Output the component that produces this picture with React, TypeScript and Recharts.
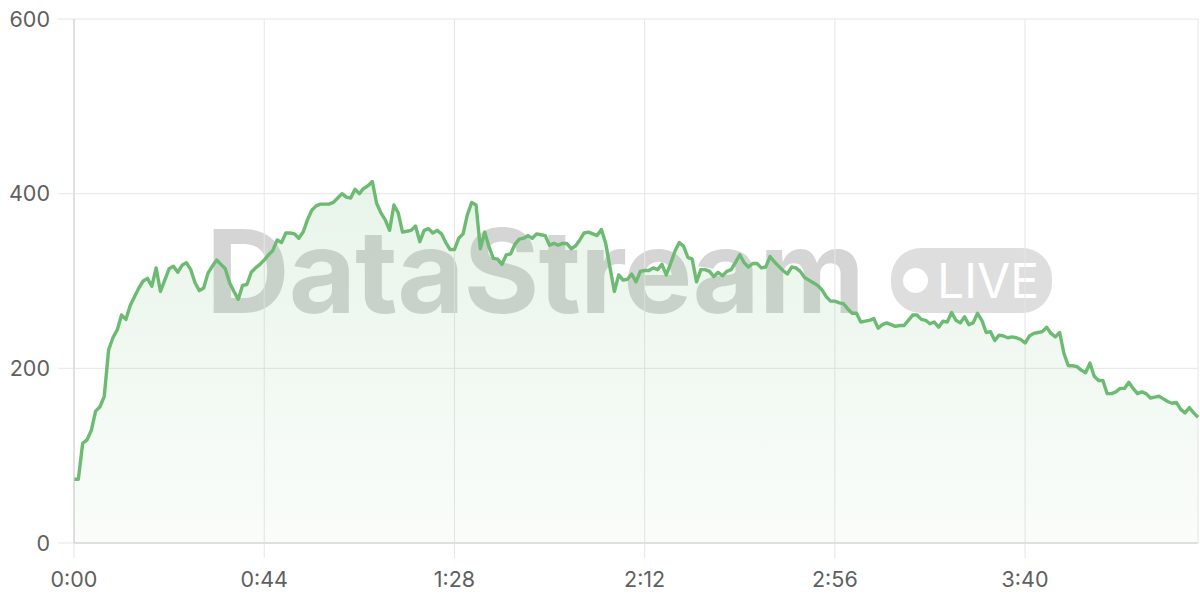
import React from 'react';
import { AreaChart, Area, XAxis, YAxis, CartesianGrid } from 'recharts';

// one reading per second, 0:00 .. 4:20
const viewers = [
  73, 73, 114, 118, 129, 151, 156, 168, 221, 235,
  244, 261, 256, 272, 282, 292, 300, 303, 294, 315,
  288, 301, 314, 317, 310, 318, 321, 313, 298, 289,
  292, 309, 317, 324, 319, 314, 298, 288, 279, 295,
  296, 310, 315, 319, 324, 330, 335, 347, 344, 355,
  355, 354, 349, 356, 370, 381, 386, 388, 388, 388,
  390, 395, 400, 396, 395, 405, 400, 406, 409, 414,
  389, 378, 370, 358, 387, 378, 356, 357, 358, 363,
  345, 358, 360, 355, 358, 354, 344, 336, 336, 349,
  354, 376, 390, 387, 337, 356, 339, 326, 325, 319,
  330, 331, 342, 348, 349, 352, 349, 354, 353, 352,
  341, 343, 341, 343, 343, 337, 340, 347, 355, 356,
  354, 352, 359, 343, 315, 288, 307, 301, 302, 308,
  299, 311, 312, 312, 315, 313, 319, 307, 320, 334,
  344, 340, 327, 325, 299, 313, 313, 311, 305, 310,
  306, 311, 313, 321, 330, 321, 316, 320, 320, 315,
  316, 328, 322, 317, 312, 308, 316, 315, 311, 304,
  301, 298, 295, 290, 282, 277, 277, 275, 274, 268,
  263, 263, 253, 254, 255, 257, 246, 250, 252, 250,
  248, 249, 249, 255, 261, 261, 256, 255, 251, 253,
  247, 254, 253, 264, 255, 252, 259, 250, 252, 263,
  255, 241, 242, 232, 238, 237, 235, 236, 235, 233,
  229, 237, 240, 241, 242, 247, 240, 236, 241, 217,
  203, 203, 202, 198, 195, 206, 191, 186, 186, 171,
  171, 173, 177, 177, 184, 177, 171, 173, 171, 166,
  167, 168, 165, 162, 160, 161, 153, 149, 155, 149,
  144,
];

const timeTicks = [0, 44, 88, 132, 176, 220];
const valueTicks = [0, 200, 400, 600];

const data = viewers.map((v, i) => ({ t: i, v }));

const fmtTime = (s: number) => `${Math.floor(s / 60)}:${String(s % 60).padStart(2, '0')}`;

const lineColor = '#6dbb73';
const tickText = { fontSize: 21.5, fill: '#5f5f5f', fontFamily: 'Inter, sans-serif' };

function Watermark() {
  return (
    <div style={{ position: 'absolute', left: 0, top: 0, width: 1200, height: 600, pointerEvents: 'none' }}>
      <div style={{
        position: 'absolute', left: 206, top: 196, fontFamily: 'Inter, sans-serif', fontWeight: 700,
        fontSize: 116, letterSpacing: -1, lineHeight: '150px', color: 'rgba(0,0,0,0.165)',
      }}>DataStream</div>
      <div style={{
        position: 'absolute', left: 891, top: 248, width: 161, height: 65, borderRadius: 30,
        background: 'rgba(0,0,0,0.13)',
      }}>
        <div style={{ position: 'absolute', left: 12, top: 20, width: 25, height: 25, borderRadius: '50%', background: '#fff' }} />
        <div style={{
          position: 'absolute', left: 46, top: 0, lineHeight: '65px', fontFamily: 'Inter, sans-serif',
          fontSize: 48, fontWeight: 400, color: '#fff',
        }}>LIVE</div>
      </div>
    </div>
  );
}

export default function App() {
  return (
    <div style={{ position: 'absolute', left: 0, top: 0, width: 1200, height: 600, background: '#fff' }}>
      <Watermark />
      <div style={{ position: 'absolute', left: 0, top: 0 }}>
        <AreaChart width={1200} height={600} data={data} margin={{ top: 19, right: 2, bottom: 0, left: 0 }}>
          <defs>
            <linearGradient id="fillGrad" x1="0" y1="0" x2="0" y2="1">
              <stop offset="0%" stopColor={lineColor} stopOpacity={0.26} />
              <stop offset="100%" stopColor={lineColor} stopOpacity={0.06} />
            </linearGradient>
          </defs>
          <CartesianGrid stroke="#e6e6e6" strokeWidth={1} />
          <XAxis
            dataKey="t" type="number" domain={[0, 260]} ticks={timeTicks} tickFormatter={fmtTime}
            height={57} tickSize={15} tickMargin={14} tick={tickText}
            axisLine={{ stroke: '#cccccc' }} tickLine={{ stroke: '#e6e6e6' }}
          />
          <YAxis
            domain={[0, 600]} ticks={valueTicks} width={74} tickSize={16} tickMargin={8} tick={tickText}
            axisLine={{ stroke: '#cccccc' }} tickLine={{ stroke: '#e6e6e6' }}
          />
          <Area
            type="linear" dataKey="v" stroke={lineColor} strokeWidth={3.4} strokeLinejoin="round"
            fill="url(#fillGrad)" dot={false} activeDot={false} isAnimationActive={false}
          />
        </AreaChart>
      </div>
    </div>
  );
}
